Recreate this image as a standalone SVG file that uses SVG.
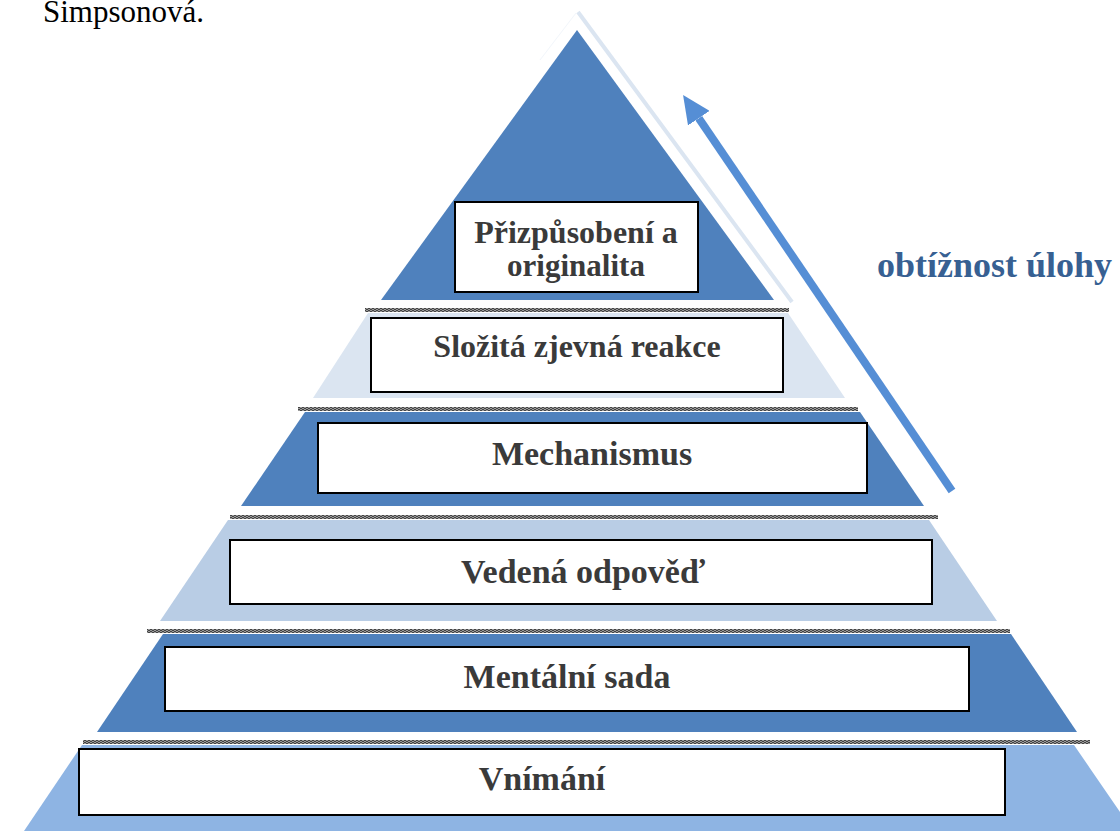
<svg xmlns="http://www.w3.org/2000/svg" width="1120" height="837" viewBox="0 0 1120 837">
<defs>
<pattern id="hatch" width="4" height="4" patternUnits="userSpaceOnUse">
<rect width="4" height="4" fill="#999"/>
<rect x="0" y="0" width="2" height="1" fill="#444"/>
<rect x="2" y="1" width="2" height="1" fill="#444"/>
<rect x="0" y="2" width="2" height="1" fill="#444"/>
<rect x="2" y="3" width="2" height="1" fill="#444"/>
</pattern>
<marker id="ah" markerWidth="28" markerHeight="26" refX="0" refY="13" orient="auto" markerUnits="userSpaceOnUse" viewBox="0 0 28 26">
<path d="M0,0 L28,13 L0,26 Z" fill="#558ED5"/>
</marker>
<style>
.dark{fill:#4F81BD}
.l2{fill:#DBE5F1}
.l4{fill:#B9CDE5}
.l6{fill:#8EB4E3}
.sep{fill:url(#hatch)}
.box{fill:#fff;stroke:#000;stroke-width:2}
.lbl{font-family:"Liberation Serif","Times New Roman",serif;font-weight:bold;fill:#3a3a3a;text-anchor:middle}
</style>
</defs>
<text x="43" y="22" font-family="Liberation Serif, Times New Roman, serif" font-size="31" fill="#000">Simpsonová.</text>
<line x1="578" y1="12" x2="792" y2="302" stroke="#DBE5F1" stroke-width="4"/>
<line x1="576" y1="13" x2="540" y2="60" stroke="#F2F6FB" stroke-width="1"/>
<g id="layers">
<polygon class="dark" points="577,30 774,300 381,300"/>
<rect class="sep" x="365" y="308" width="424" height="4"/>
<polygon class="l2" points="368,313 788,313 845,398 313,398"/>
<rect class="sep" x="298" y="407" width="560" height="4"/>
<polygon class="dark" points="305,412 860,412 924,506 241,506"/>
<rect class="sep" x="230" y="515" width="708" height="4"/>
<polygon class="l4" points="228,520 929,520 997,621 160,621"/>
<rect class="sep" x="147" y="629" width="863" height="4"/>
<polygon class="dark" points="163,634 1011,634 1077,732 97,732"/>
<rect class="sep" x="83" y="740" width="1007" height="4"/>
<polygon class="l6" points="82,745 1074,745 1133,831 24,831"/>
</g>
<g id="node1">
<rect class="box" x="455" y="202" width="243" height="90"/>
<text class="lbl" x="576" y="243" font-size="32">Přizpůsobení a</text>
<text class="lbl" x="576" y="276" font-size="31">originalita</text>
</g>
<g id="node2">
<rect class="box" x="371" y="318" width="412" height="74"/>
<text class="lbl" x="577" y="357" font-size="32">Složitá zjevná reakce</text>
</g>
<g id="node3">
<rect class="box" x="318" y="423" width="549" height="70"/>
<text class="lbl" x="592" y="465" font-size="34">Mechanismus</text>
</g>
<g id="node4">
<rect class="box" x="230" y="540" width="702" height="64"/>
<text class="lbl" x="583" y="583" font-size="34">Vedená odpověď</text>
</g>
<g id="node5">
<rect class="box" x="165" y="647" width="804" height="64"/>
<text class="lbl" x="567" y="688" font-size="34">Mentální sada</text>
</g>
<g id="node6">
<rect class="box" x="79" y="749" width="926" height="66"/>
<text class="lbl" x="542" y="790" font-size="34">Vnímání</text>
</g>
<g id="connectors">
<line x1="952" y1="491" x2="698.8" y2="118.2" stroke="#558ED5" stroke-width="8" marker-end="url(#ah)"/>
</g>
<text x="877" y="277" font-family="Liberation Serif, Times New Roman, serif" font-weight="bold" font-size="36" fill="#376092">obtížnost úlohy</text>
</svg>
